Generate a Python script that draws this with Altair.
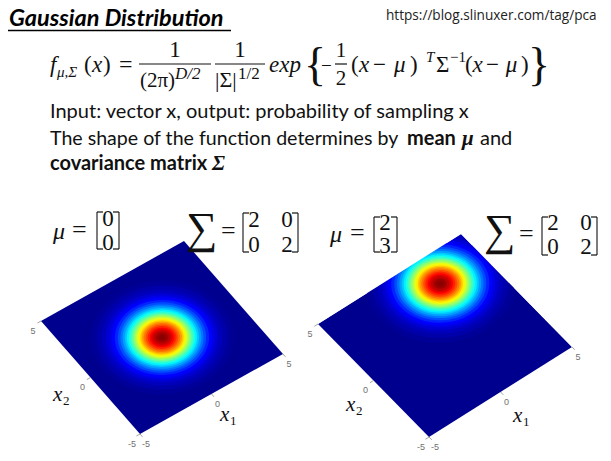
import math
import altair as alt
import pandas as pd

# ---- values ----
band_radius = [4.10, 3.75, 3.46, 3.22, 3.03, 2.88, 2.71, 2.54, 2.39, 2.26, 2.13, 2.02, 1.91, 1.81, 1.71,
               1.62, 1.52, 1.43, 1.34, 1.24, 1.15, 1.05, 0.94, 0.83, 0.71, 0.61, 0.50, 0.35, 0.20]
band_colour = ["#000099", "#0000aa", "#0000bc", "#0000d2", "#0000e9", "#0000ff", "#0024ff", "#004dff", "#0075ff",
               "#009eff", "#00c7ff", "#00f0ff", "#1affe6", "#42ffbd", "#6bff94", "#94ff6b", "#bdff42", "#e6ff1a",
               "#fff000", "#ffc700", "#ff9e00", "#ff7500", "#ff4d00", "#ff2400", "#ff0000", "#db0000", "#bd0000",
               "#9e0000", "#8a0000"]
left_mean = [0, 0]
right_mean = [2, 3]
tick_values = [-5, 0, 5]
plane_half = 5

# page-pixel frame of each surface: centre of the plane and the screen step per unit of x1, x2
left_frame = dict(c=(162, 337.5), a=(14.3, -8.0), b=(-9.9, -11.3))
right_frame = dict(c=(445, 335.5), a=(14.3, -9.0), b=(-11.1, -11.3))

NAVY = "#00008f"
TICK_GREY = "#8a8a8a"
INK = "#111111"
W, H = 595, 445
xs = alt.Scale(domain=[8, 8 + W])
ys = alt.Scale(domain=[8, 8 + H], reverse=True)


def project(f, u, v):
    return (f["c"][0] + u * f["a"][0] + v * f["b"][0], f["c"][1] + u * f["a"][1] + v * f["b"][1])


def outline(f, pts):
    s = [f"{u * f['a'][0] + v * f['b'][0]:.3f},{u * f['a'][1] + v * f['b'][1]:.3f}" for u, v in pts]
    return "M" + "L".join(s) + "Z"


def circle_path(f):
    return outline(f, [(math.cos(i * math.pi / 48), math.sin(i * math.pi / 48)) for i in range(96)])


def square_path(f):
    return outline(f, [(1, 1), (-1, 1), (-1, -1), (1, -1)])


def blobs(f, path, centres, radii, colours):
    rows = []
    for (u, v), r, c in zip(centres, radii, colours):
        px, py = project(f, u, v)
        rows.append(dict(px=px, py=py, s=(2 * r) ** 2, c=c))
    return alt.Chart(pd.DataFrame(rows)).mark_point(filled=True, opacity=1, strokeWidth=0, shape=path).encode(
        x=alt.X("px:Q", scale=xs, axis=None),
        y=alt.Y("py:Q", scale=ys, axis=None),
        size=alt.Size("s:Q", scale=None),
        color=alt.Color("c:N", scale=None),
    )


def surface(f, mean, masks):
    n = len(band_radius)
    out = [blobs(f, square_path(f), [(0, 0)], [plane_half], [NAVY]),
           blobs(f, circle_path(f), [tuple(mean)] * n, band_radius, band_colour)]
    if masks:
        out.append(blobs(f, square_path(f), masks, [plane_half] * len(masks), ["#ffffff"] * len(masks)))
    rows = []
    lab = []
    for t in tick_values:
        p = project(f, t, -plane_half)
        q = project(f, t, -plane_half - 0.25)
        rows.append(dict(x1=p[0], y1=p[1], x2=q[0], y2=q[1]))
        lab.append(dict(px=p[0], py=p[1], t=str(t), dx=6, dy=10))
        p = project(f, -plane_half, t)
        q = project(f, -plane_half - 0.25, t)
        rows.append(dict(x1=p[0], y1=p[1], x2=q[0], y2=q[1]))
        lab.append(dict(px=p[0], py=p[1], t=str(t), dx=-8, dy=9.5))
    out.append(alt.Chart(pd.DataFrame(rows)).mark_rule(color=TICK_GREY, strokeWidth=0.8).encode(
        x=alt.X("x1:Q", scale=xs, axis=None), y=alt.Y("y1:Q", scale=ys, axis=None), x2="x2:Q", y2="y2:Q"))
    for dx, dy in [(6, 10), (-8, 9.5)]:
        sub = [r for r in lab if r["dx"] == dx]
        out.append(alt.Chart(pd.DataFrame(sub)).mark_text(
            font="Liberation Sans", fontSize=9, color="#707070", dx=dx, dy=dy).encode(
            x=alt.X("px:Q", scale=xs, axis=None), y=alt.Y("py:Q", scale=ys, axis=None), text="t:N"))
    return out


def txt(s, x, y, size, font="Liberation Serif", style="normal", weight="normal", align="left", color=INK):
    return alt.Chart(pd.DataFrame({"t": [s]})).mark_text(
        text=s, font=font, fontSize=size, fontStyle=style, fontWeight=weight, align=align, baseline="alphabetic",
        color=color).encode(x=alt.value(x - 8), y=alt.value(y - 8))


def bar(x1, x2, y, w=1.2, color=INK):
    return alt.Chart(pd.DataFrame({"t": [0]})).mark_rule(color=color, strokeWidth=w).encode(
        x=alt.value(x1 - 8), x2=alt.value(x2 - 8), y=alt.value(y - 8))


def vbar(x, y1, y2, w=1.1, color=INK):
    return alt.Chart(pd.DataFrame({"t": [0]})).mark_rule(color=color, strokeWidth=w).encode(
        x=alt.value(x - 8), y=alt.value(y1 - 8), y2=alt.value(y2 - 8))


def bracket(x, y1, y2, direction):
    return [vbar(x, y1, y2), bar(x, x + 6 * direction, y1), bar(x, x + 6 * direction, y2)]


def diff(x0, y, size, s=1.0):
    parts = [("(", 0, "normal"), ("x", 8, "italic"), ("−", 22, "normal"), ("μ", 43, "italic"), (")", 59, "normal")]
    return [txt(t, x0 + o * s, y, size, style=st) for t, o, st in parts]


SANS = "Lato"
annot = [
    txt("https://blog.slinuxer.com/tag/pca", 386, 20, 13.6, font="Open Sans", color="#222222"),
    txt("Gaussian Distribution", 9, 26, 23.5, font=SANS, style="italic", weight="bold", color="#000000"),
    bar(8, 231, 30.5, 1.3, "#000000"),
    # formula
    txt("f", 50, 72, 23, style="italic"), txt("μ,Σ", 57, 77, 15, style="italic"),
    txt("(", 84, 72, 23), txt("x", 92, 72, 23, style="italic"), txt(")", 103, 72, 23), txt("=", 119, 72, 24),
    bar(139, 211, 64), txt("1", 175, 57, 23, align="center"),
    txt("(2π)", 140, 87, 21), txt("D/2", 175, 79, 17, style="italic"),
    bar(215, 265, 64), txt("1", 240, 57, 23, align="center"),
    txt("|Σ|", 215, 87, 22), txt("1/2", 238, 79, 17),
    txt("exp", 269, 72, 23, style="italic"),
    txt("{", 304, 80, 46), txt("−", 321, 72, 19),
    bar(335, 347, 64), txt("1", 341, 57, 21, align="center"), txt("2", 341, 85, 21, align="center"),
    txt("T", 426, 62, 15, style="italic"),
    txt("Σ", 436, 72, 23), txt("−1", 450, 62, 15),
    txt("}", 528, 80, 46),
    # sentences
    txt("Input: vector x, output: probability of sampling x", 50, 118, 20, font=SANS),
    txt("The shape of the function determines by", 50, 145, 19.6, font=SANS),
    txt("mean", 407, 145, 20, font=SANS, weight="bold"),
    txt("μ", 462, 145, 21, style="italic", weight="bold"),
    txt("and", 480, 145, 20, font=SANS),
    txt("covariance matrix", 50, 170, 20, font=SANS, weight="bold"),
    txt("Σ", 212, 170, 21, style="italic", weight="bold"),
]
annot += diff(351, 72, 23) + diff(465, 72, 23, 0.95)

annot += [
    txt("μ", 53, 239, 24, style="italic"), txt("=", 72, 238, 26),
    txt("0", 108, 226, 23, align="center"), txt("0", 108, 250, 23, align="center"),
    txt("∑", 186, 243, 44), txt("=", 221, 239, 26),
    txt("2", 254, 227, 23, align="center"), txt("0", 287, 227, 23, align="center"),
    txt("0", 254, 252, 23, align="center"), txt("2", 287, 252, 23, align="center"),
    txt("μ", 330, 242, 24, style="italic"), txt("=", 350, 241, 26),
    txt("2", 385, 230, 23, align="center"), txt("3", 385, 253, 23, align="center"),
    txt("∑", 484, 245, 44), txt("=", 519, 242, 26),
    txt("2", 553, 230, 23, align="center"), txt("0", 586, 230, 23, align="center"),
    txt("0", 553, 254, 23, align="center"), txt("2", 586, 254, 23, align="center"),
]
annot += bracket(97, 212, 249, 1) + bracket(119, 212, 249, -1)
annot += bracket(243, 213, 252, 1) + bracket(298, 213, 252, -1)
annot += bracket(374, 217, 252, 1) + bracket(397, 217, 252, -1)
annot += bracket(542, 217, 255, 1) + bracket(597, 217, 255, -1)

for name, sub, x, y in [("x", "2", 53, 401), ("x", "1", 220, 421), ("x", "2", 346, 411), ("x", "1", 513, 422)]:
    annot.append(txt(name, x, y, 21, style="italic"))
    annot.append(txt(sub, x + 10, y + 4, 13))

layers = surface(left_frame, left_mean, None)
layers += surface(right_frame, right_mean, [(0, 10), (10, 0), (9, 10), (10, 9)])
layers += annot

chart = alt.layer(*layers).properties(width=W, height=H, padding=0, autosize=alt.AutoSizeParams(type="none")).configure_view(stroke=None)
chart.save("out.html", embed_options={"renderer": "svg", "actions": False})
